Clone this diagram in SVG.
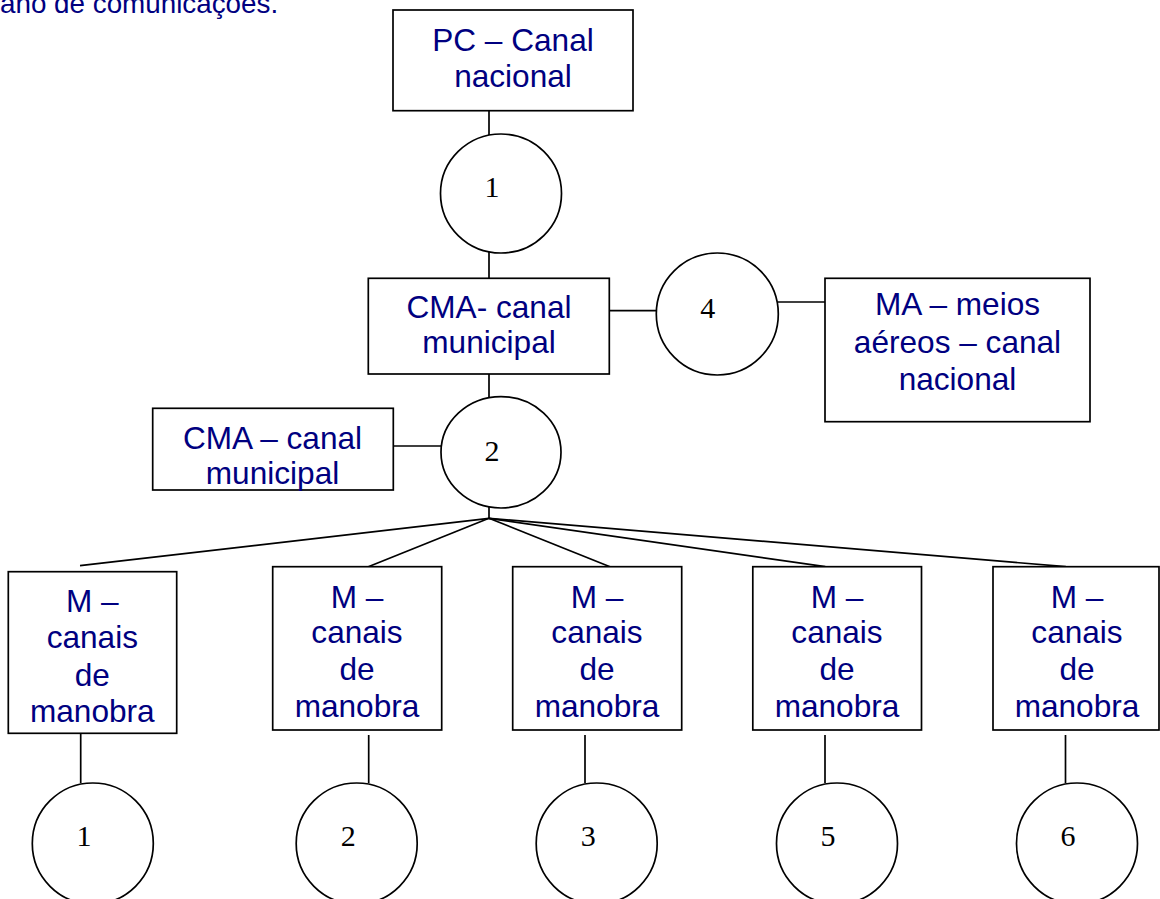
<svg xmlns="http://www.w3.org/2000/svg" width="1160" height="899" viewBox="0 0 1160 899">
<style>
.box{fill:#fff;stroke:#000;stroke-width:1.7}
.cir{fill:#fff;stroke:#000;stroke-width:1.7}
.ln{stroke:#000;stroke-width:1.7;fill:none}
.t{font-family:"Liberation Sans",Arial,sans-serif;font-size:31.6px;fill:#000080;text-anchor:middle}
.n{font-family:"Liberation Serif","Times New Roman",serif;font-size:30px;fill:#000;text-anchor:middle}
.hdr{font-family:"Liberation Sans",Arial,sans-serif;font-size:27.8px;fill:#000080}
</style>
<rect width="1160" height="899" fill="#fff"/>
<text class="hdr" x="0" y="13">ano de comunicações.</text>
<g id="connectors">
<line class="ln" x1="489" y1="111" x2="489" y2="135"/>
<line class="ln" x1="489" y1="252" x2="489" y2="278"/>
<line class="ln" x1="609" y1="310.7" x2="657" y2="310.7"/>
<line class="ln" x1="778" y1="302" x2="825" y2="302"/>
<line class="ln" x1="489" y1="374" x2="489" y2="399"/>
<line class="ln" x1="393" y1="446" x2="441" y2="446"/>
<line class="ln" x1="489" y1="493" x2="489" y2="518.3"/>
<line class="ln" x1="489" y1="518.3" x2="80" y2="565.7"/>
<line class="ln" x1="489" y1="518.3" x2="368.3" y2="566.7"/>
<line class="ln" x1="489" y1="518.3" x2="610" y2="566.7"/>
<line class="ln" x1="489" y1="518.3" x2="825.3" y2="566.7"/>
<line class="ln" x1="489" y1="518.3" x2="1065.8" y2="566.7"/>
<line class="ln" x1="80.7" y1="733" x2="80.7" y2="783"/>
<line class="ln" x1="368.7" y1="735" x2="368.7" y2="783"/>
<line class="ln" x1="585" y1="735" x2="585" y2="783"/>
<line class="ln" x1="825" y1="735" x2="825" y2="783"/>
<line class="ln" x1="1065.5" y1="735" x2="1065.5" y2="783"/>
</g>
<g id="pc">
<rect class="box" x="393" y="10" width="240" height="100.7"/>
<text class="t" x="513" y="50.7">PC – Canal</text>
<text class="t" x="513" y="87">nacional</text>
</g>
<g id="c1">
<ellipse class="cir" cx="501" cy="193.5" rx="60.5" ry="59.5"/>
<text class="n" x="492" y="197">1</text>
</g>
<g id="cma">
<rect class="box" x="368.3" y="278.3" width="241" height="95.7"/>
<text class="t" x="489" y="318.3">CMA- canal</text>
<text class="t" x="489" y="353">municipal</text>
</g>
<g id="c4">
<ellipse class="cir" cx="717.3" cy="314" rx="61" ry="61"/>
<text class="n" x="707.7" y="318.3">4</text>
</g>
<g id="ma">
<rect class="box" x="825" y="278.3" width="265" height="143.4"/>
<text class="t" x="957.5" y="315">MA – meios</text>
<text class="t" x="957.5" y="353.3">aéreos – canal</text>
<text class="t" x="957.5" y="390">nacional</text>
</g>
<g id="cma2">
<rect class="box" x="152.7" y="408.3" width="240.6" height="81.7"/>
<text class="t" x="272.5" y="449">CMA – canal</text>
<text class="t" x="272.5" y="484.3">municipal</text>
</g>
<g id="c2">
<ellipse class="cir" cx="501" cy="452.3" rx="60" ry="55.7"/>
<text class="n" x="492" y="460.7">2</text>
</g>
<g id="m1">
<rect class="box" x="8.3" y="571.7" width="168.4" height="161.6"/>
<text class="t" x="92.3" y="611.7">M –</text>
<text class="t" x="92.3" y="648.3">canais</text>
<text class="t" x="92.3" y="685.7">de</text>
<text class="t" x="92.3" y="721.7">manobra</text>
</g>
<g id="m2">
<rect class="box" x="272.7" y="566.7" width="169" height="163.3"/>
<text class="t" x="357" y="608.3">M –</text>
<text class="t" x="357" y="643.3">canais</text>
<text class="t" x="357" y="680">de</text>
<text class="t" x="357" y="716.7">manobra</text>
</g>
<g id="m3">
<rect class="box" x="512.7" y="566.7" width="169" height="163.3"/>
<text class="t" x="597" y="608.3">M –</text>
<text class="t" x="597" y="643.3">canais</text>
<text class="t" x="597" y="680">de</text>
<text class="t" x="597" y="716.7">manobra</text>
</g>
<g id="m4">
<rect class="box" x="752.8" y="566.7" width="168.7" height="163.3"/>
<text class="t" x="837" y="608.3">M –</text>
<text class="t" x="837" y="643.3">canais</text>
<text class="t" x="837" y="680">de</text>
<text class="t" x="837" y="716.7">manobra</text>
</g>
<g id="m5">
<rect class="box" x="993" y="566.7" width="166" height="163.3"/>
<text class="t" x="1077" y="608.3">M –</text>
<text class="t" x="1077" y="643.3">canais</text>
<text class="t" x="1077" y="680">de</text>
<text class="t" x="1077" y="716.7">manobra</text>
</g>
<g id="b1">
<ellipse class="cir" cx="92.8" cy="843.5" rx="60.5" ry="60.5"/>
<text class="n" x="84" y="846">1</text>
</g>
<g id="b2">
<ellipse class="cir" cx="356.7" cy="843.5" rx="60.5" ry="60.5"/>
<text class="n" x="348.3" y="846">2</text>
</g>
<g id="b3">
<ellipse class="cir" cx="596.7" cy="843.5" rx="60.5" ry="60.5"/>
<text class="n" x="588.3" y="846">3</text>
</g>
<g id="b5">
<ellipse class="cir" cx="837" cy="843.5" rx="60.5" ry="60.5"/>
<text class="n" x="828" y="846">5</text>
</g>
<g id="b6">
<ellipse class="cir" cx="1077" cy="843.5" rx="60.5" ry="60.5"/>
<text class="n" x="1068" y="846">6</text>
</g>
</svg>
